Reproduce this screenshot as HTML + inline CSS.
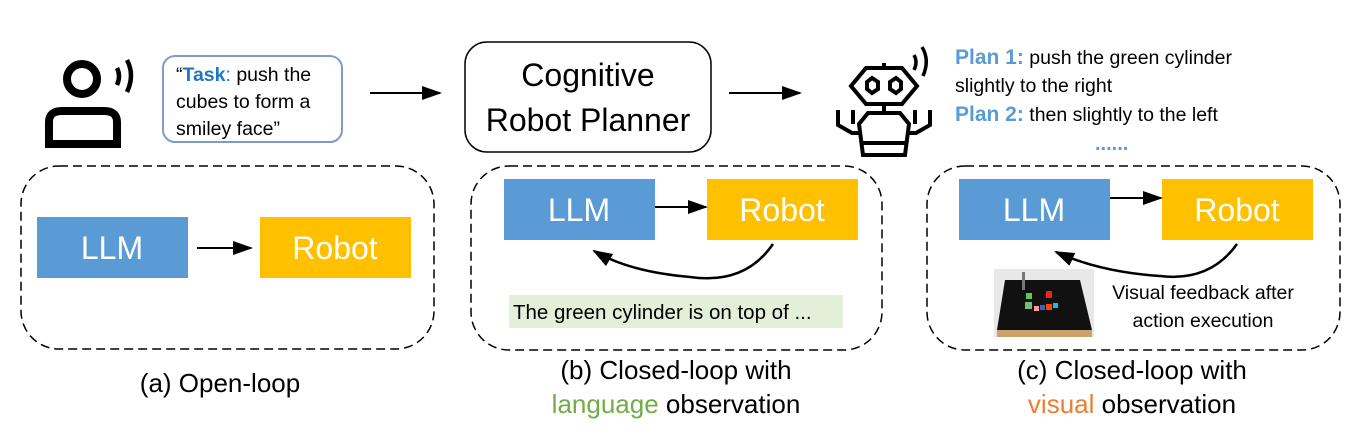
<!DOCTYPE html>
<html><head><meta charset="utf-8"><style>
html,body{margin:0;padding:0;background:#fff}
svg text{font-family:"Liberation Sans",Arial,sans-serif}
</style></head><body>
<svg width="1361" height="433" viewBox="0 0 1361 433" xmlns="http://www.w3.org/2000/svg">
<defs>
<marker id="ah" markerWidth="20" markerHeight="14" refX="18" refY="7" orient="auto" markerUnits="userSpaceOnUse"><path d="M0,0 L20,7 L0,14 z"/></marker>
</defs>
<rect width="1361" height="433" fill="#fff"/>
<!-- person icon -->
<circle cx="82" cy="79" r="15" fill="none" stroke="#000" stroke-width="8"/>
<path d="M49,144 V122 Q49,111 62,111 H104 Q117,111 117,122 V144 Z" fill="none" stroke="#000" stroke-width="8"/>
<path d="M117,68 Q121,76 117,85" fill="none" stroke="#000" stroke-width="4.5"/>
<path d="M127,60 Q135,75 127,92" fill="none" stroke="#000" stroke-width="4.5"/>
<!-- speech bubble -->
<rect x="163" y="56" width="179" height="86" rx="12" fill="none" stroke="#7f9cc8" stroke-width="2"/>
<text x="176" y="81" font-size="19.5"><tspan fill="#000">“</tspan><tspan fill="#1f77c4" font-weight="bold">Task</tspan><tspan fill="#1f77c4">:</tspan> push the</text>
<text x="176" y="108" font-size="19.5">cubes to form a</text>
<text x="176" y="135" font-size="19.5">smiley face”</text>
<line x1="370" y1="93" x2="440" y2="93" stroke="#000" stroke-width="2" marker-end="url(#ah)"/>
<!-- planner -->
<rect x="465" y="42" width="246" height="110" rx="22" fill="none" stroke="#000" stroke-width="1.5"/>
<text x="588" y="86" font-size="32" text-anchor="middle">Cognitive</text>
<text x="588" y="131" font-size="32" text-anchor="middle">Robot Planner</text>
<line x1="729" y1="93" x2="800" y2="93" stroke="#000" stroke-width="2" marker-end="url(#ah)"/>
<!-- robot icon -->
<g fill="none" stroke="#000" stroke-width="4">
<line x1="884" y1="63" x2="884" y2="68"/>
<polygon points="866,68 902,68 917,86 902,104 866,104 851,86"/>
<polygon points="867,82 872,78 878,82 878,89 872,93 867,89"/>
<polygon points="890,82 896,78 901,82 901,89 896,93 890,89"/>
<line x1="884" y1="104" x2="884" y2="113"/>
<polygon points="868,113 900,113 909,124 905,155 863,155 859,124"/>
<line x1="863" y1="143" x2="905" y2="143"/>
<path d="M838,110 V125 L852,133 H860"/><path d="M853,110 V124"/>
<path d="M930,110 V125 L916,133 H908"/><path d="M915,110 V124"/>
<path d="M914,55 Q918,62 914,70" stroke-width="3.5"/><path d="M922,47 Q930,60 923,76" stroke-width="3.5"/>
</g>
<text x="955" y="64" font-size="19.5"><tspan fill="#5b9bd5" font-weight="bold" font-size="21">Plan 1:</tspan> push the green cylinder</text>
<text x="955" y="92" font-size="19.5">slightly to the right</text>
<text x="955" y="121" font-size="19.5"><tspan fill="#5b9bd5" font-weight="bold" font-size="21">Plan 2:</tspan> then slightly to the left</text>
<text x="1095" y="150" font-size="20" fill="#5b9bd5" font-weight="bold">......</text>
<!-- panel a -->
<rect x="21" y="166" width="413" height="183" rx="38" fill="none" stroke="#000" stroke-width="1.5" stroke-dasharray="9,5"/>
<rect x="37" y="217" width="151" height="61" fill="#5b9bd5"/>
<text x="112" y="259" font-size="32" fill="#fff" text-anchor="middle">LLM</text>
<rect x="260" y="217" width="151" height="61" fill="#ffc000"/>
<text x="335" y="259" font-size="32" fill="#fff" text-anchor="middle">Robot</text>
<line x1="197" y1="248" x2="251" y2="248" stroke="#000" stroke-width="2" marker-end="url(#ah)"/>
<text x="220" y="392" font-size="26" text-anchor="middle">(a) Open-loop</text>
<!-- panel b -->
<rect x="471" y="166" width="411" height="184" rx="38" fill="none" stroke="#000" stroke-width="1.5" stroke-dasharray="9,5"/>
<rect x="504" y="179" width="151" height="61" fill="#5b9bd5"/>
<text x="579" y="221" font-size="32" fill="#fff" text-anchor="middle">LLM</text>
<rect x="707" y="179" width="151" height="61" fill="#ffc000"/>
<text x="782" y="221" font-size="32" fill="#fff" text-anchor="middle">Robot</text>
<line x1="655" y1="207" x2="706" y2="207" stroke="#000" stroke-width="2" marker-end="url(#ah)"/>
<path d="M773,244 Q745,285 690,277 Q630,272 594,251" fill="none" stroke="#000" stroke-width="2.5" marker-end="url(#ah)"/>
<rect x="509" y="295" width="334" height="33" fill="#e2efd9"/>
<text x="513" y="319" font-size="20.5">The green cylinder is on top of ...</text>
<text x="676" y="379" font-size="26" text-anchor="middle">(b) Closed-loop with</text>
<text x="676" y="413" font-size="26" text-anchor="middle"><tspan fill="#70ad47">language</tspan> observation</text>
<!-- panel c -->
<rect x="927" y="166" width="413" height="184" rx="38" fill="none" stroke="#000" stroke-width="1.5" stroke-dasharray="9,5"/>
<rect x="959" y="179" width="151" height="61" fill="#5b9bd5"/>
<text x="1034" y="221" font-size="32" fill="#fff" text-anchor="middle">LLM</text>
<rect x="1162" y="179" width="151" height="61" fill="#ffc000"/>
<text x="1237" y="221" font-size="32" fill="#fff" text-anchor="middle">Robot</text>
<line x1="1110" y1="198" x2="1161" y2="198" stroke="#000" stroke-width="2" marker-end="url(#ah)"/>
<path d="M1237,244 Q1210,282 1160,276 Q1100,272 1056,252" fill="none" stroke="#000" stroke-width="2.5" marker-end="url(#ah)"/>
<!-- photo -->
<rect x="994" y="269" width="100" height="68" fill="#e8e8e8"/>
<polygon points="1005,280 1080,280 1092,330 997,330" fill="#111"/>
<rect x="997" y="330" width="95" height="7" fill="#c9a36a"/>
<rect x="1022" y="272" width="3" height="18" fill="#777"/>
<rect x="1026" y="293" width="6" height="6" fill="#5c5"/><rect x="1046" y="291" width="6" height="7" fill="#e22"/>
<rect x="1025" y="302" width="7" height="7" fill="#7b7"/><rect x="1034" y="306" width="5" height="5" fill="#f99"/><rect x="1040" y="305" width="5" height="5" fill="#36c"/><rect x="1046" y="304" width="6" height="6" fill="#f40"/><rect x="1053" y="303" width="5" height="5" fill="#2bd"/>
<text x="1203" y="299" font-size="19.5" text-anchor="middle">Visual feedback after</text>
<text x="1203" y="327" font-size="19.5" text-anchor="middle">action execution</text>
<text x="1132" y="379" font-size="26" text-anchor="middle">(c) Closed-loop with</text>
<text x="1132" y="413" font-size="26" text-anchor="middle"><tspan fill="#ed7d31">visual</tspan> observation</text>
</svg>
</body></html>
